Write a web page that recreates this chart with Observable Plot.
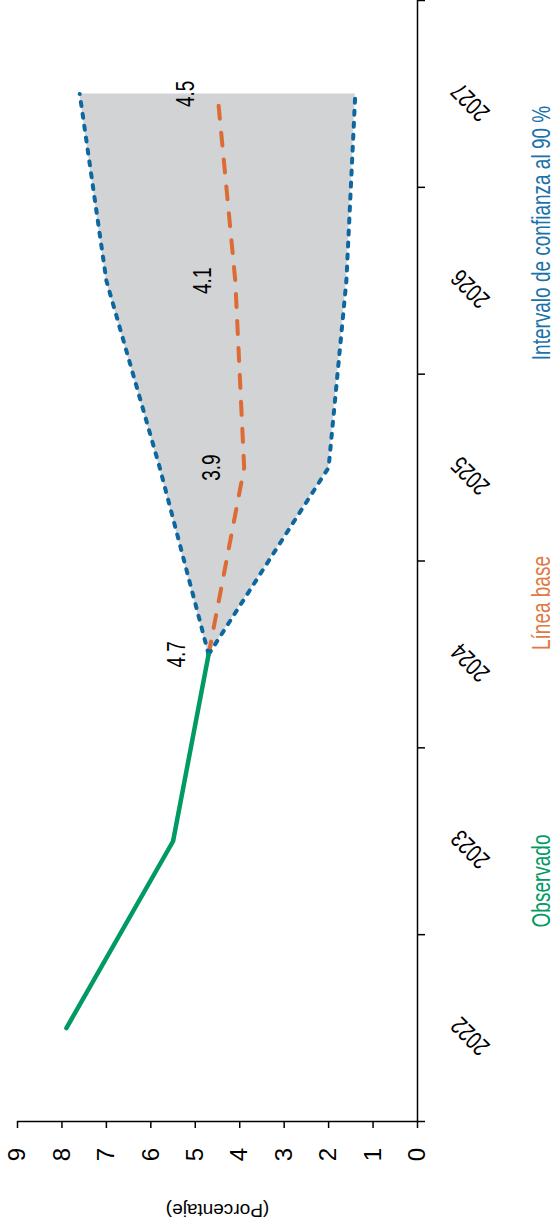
<!DOCTYPE html>
<html><head><meta charset="utf-8">
<script src="https://cdn.jsdelivr.net/npm/d3@7"></script>
<script src="https://cdn.jsdelivr.net/npm/@observablehq/plot@0.6"></script>
<style>body{margin:0;background:#fff} #chart svg{display:block}</style>
</head><body><div id="chart"></div>
<script>
// ---- data ----
const years = [2022, 2023, 2024, 2025, 2026, 2027];
const observedYears = [2022, 2023, 2024];
const observed = [7.9, 5.5, 4.7];
const forecastYears = [2024, 2025, 2026, 2027];
const baseline = [4.7, 3.9, 4.1, 4.5];
const upper = [4.7, 5.8, 7.0, 7.6];
const lower = [4.7, 2.0, 1.6, 1.4];
const xTicks = [0, 1, 2, 3, 4, 5, 6, 7, 8, 9];
const yBoundaries = [2021.5, 2022.5, 2023.5, 2024.5, 2025.5, 2026.5, 2027.5];
const legendLabels = ["Observado", "Línea base", "Intervalo de confianza al 90 %"];
const xLabel = "(Porcentaje)";

const colors = {green: "#009a62", orange: "#dc6b35", blue: "#0d67a0", band: "#d1d3d4"};
const sans = "'Liberation Sans', Arial, sans-serif";

const obs = observedYears.map((y, i) => ({year: y, value: observed[i]}));
const fc = forecastYears.map((y, i) => ({year: y, base: baseline[i], hi: upper[i], lo: lower[i]}));

const narrowText = {fontSize: 25, textAnchor: "middle", lineAnchor: "middle"};

const chart = Plot.plot({
  width: 557,
  height: 1224,
  marginLeft: 17,
  marginRight: 140,
  marginTop: 0,
  marginBottom: 103,
  style: {fontFamily: sans, background: "#fff"},
  x: {domain: [0, 9], reverse: true, axis: null},
  y: {domain: [2021.5, 2027.5], axis: null},
  marks: [
    Plot.areaX(fc, {y: "year", x1: "lo", x2: "hi", fill: colors.band}),
    Plot.lineX(fc, {y: "year", x: "base", stroke: colors.orange, strokeWidth: 4, strokeDasharray: "13,14", strokeLinecap: "round"}),
    Plot.lineX(fc, {y: "year", x: "hi", stroke: colors.blue, strokeWidth: 4, strokeDasharray: "4,8", strokeLinecap: "round"}),
    Plot.lineX(fc, {y: "year", x: "lo", stroke: colors.blue, strokeWidth: 4, strokeDasharray: "4,8", strokeLinecap: "round"}),
    Plot.lineX(obs, {y: "year", x: "value", stroke: colors.green, strokeWidth: 4.5, strokeLinecap: "round", strokeLinejoin: "round"}),
    Plot.text(fc, {...narrowText, y: "year", x: "base", text: d => d.base.toFixed(1), rotate: -90, dx: -32, fill: "#000"}),
    // axes
    Plot.ruleX([0], {stroke: "#000", strokeWidth: 1.5}),
    Plot.ruleY([2021.5], {stroke: "#000", strokeWidth: 1.5}),
    Plot.axisX({anchor: "bottom", ticks: xTicks, tickSize: 7, tickPadding: 26, tickRotate: -90, fontSize: 24, textAnchor: "middle", lineAnchor: "middle", label: null, stroke: "#000", strokeWidth: 1.5}),
    Plot.axisY({anchor: "right", ticks: yBoundaries, tickSize: 7, tickFormat: () => "", label: null, stroke: "#000", strokeWidth: 1.5}),
    Plot.text(years, {...narrowText, y: d => d, frameAnchor: "right", dx: 53, dy: 8, rotate: -135, text: d => String(d), fill: "#000"}),
    Plot.text([xLabel], {frameAnchor: "bottom", dy: 89, rotate: 180, fontSize: 19, fill: "#000", textAnchor: "middle", lineAnchor: "middle"}),
    // legend
    Plot.text([legendLabels[0]], {...narrowText, frameAnchor: "right", dx: 124, dy: 320, rotate: -90, fill: colors.green}),
    Plot.text([legendLabels[1]], {...narrowText, frameAnchor: "right", dx: 124, dy: 42, rotate: -90, fill: "#e07a45"}),
    Plot.text([legendLabels[2]], {...narrowText, frameAnchor: "right", dx: 124, dy: -328, rotate: -90, fill: "#1a72aa"})
  ]
});
// condensed look of the original typeface: compress these texts along their reading direction
const narrowSet = new Set([...legendLabels, ...years.map(String), ...baseline.map(v => v.toFixed(1))]);
d3.select(chart).selectAll("text").each(function() {
  if (!narrowSet.has(this.textContent)) return;
  const t = this.getAttribute("transform") || "";
  this.setAttribute("transform", `${t} scale(0.76,1)`);
});
document.getElementById("chart").appendChild(chart);
</script>
</body></html>
